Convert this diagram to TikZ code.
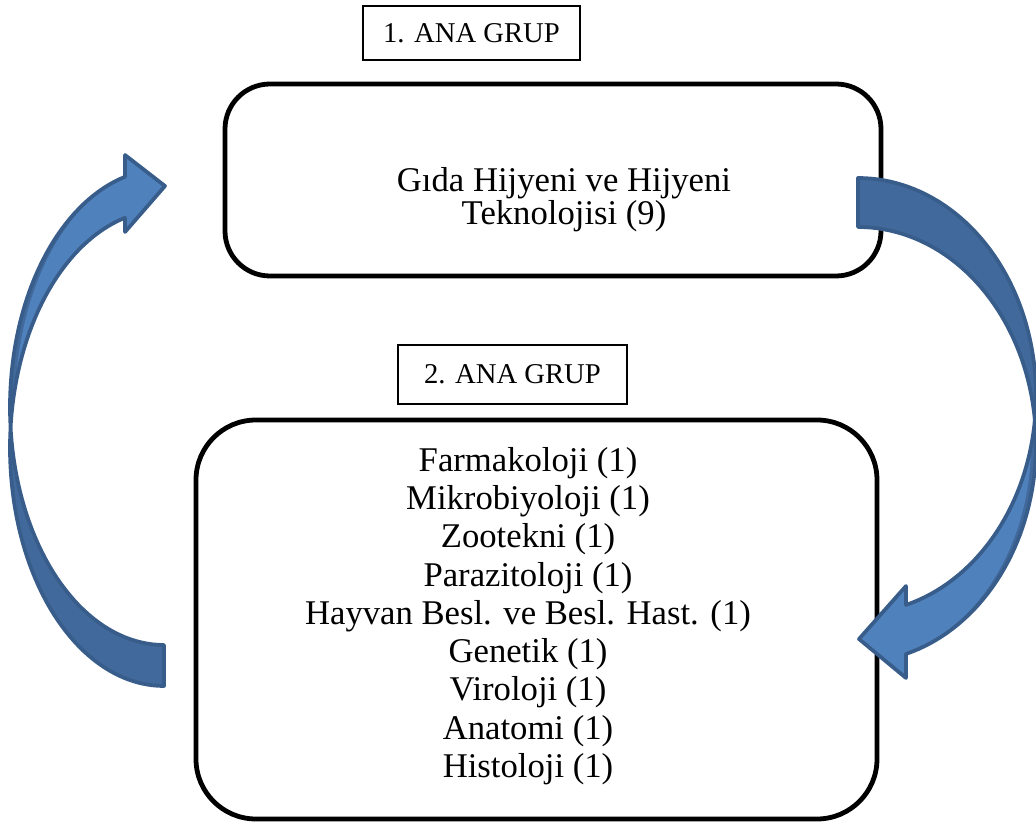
\documentclass[tikz,border=0pt]{standalone}
\usepackage{fontspec}
\setmainfont{Liberation Serif}
\definecolor{arrowfill}{HTML}{4F81BD}
\definecolor{arrowdark}{HTML}{41699B}
\definecolor{arrowline}{HTML}{385D8A}
\tikzset{
  labelbox/.style={draw=black, line width=1.8pt, inner sep=0pt, font=\fontsize{21.5}{24}\selectfont},
  groupbox/.style={draw=black, line width=3.6pt, inner sep=0pt},
  grouptext/.style={align=center, inner sep=0pt},
  arrowedge/.style={draw=arrowline, line width=2.8pt, line join=round}
}
\begin{document}
\begin{tikzpicture}[x=0.75pt, y=-0.75pt]
\useasboundingbox (0,0) rectangle (1036,823);

% boxes
\node[groupbox, rounded corners=33.75pt, minimum width=492pt, minimum height=144pt] (box1) at (553,180) {};
\node[grouptext, font=\fontsize{26}{25}\selectfont] (text1) at (564,200) {Gıda Hijyeni ve Hijyeni\\Teknolojisi (9)};
\node[labelbox, minimum width=162.75pt, minimum height=40.5pt] (label1) at (471.5,33) {1. ANA GRUP};

\node[groupbox, rounded corners=45pt, minimum width=510.75pt, minimum height=299.25pt] (box2) at (536.5,619.5) {};
\node[grouptext, font=\fontsize{26}{28.7}\selectfont] (text2) at (528,616) {Farmakoloji (1)\\Mikrobiyoloji (1)\\Zootekni (1)\\Parazitoloji (1)\\Hayvan Besl. ve Besl. Hast. (1)\\Genetik (1)\\Viroloji (1)\\Anatomi (1)\\Histoloji (1)};
\node[labelbox, minimum width=171.75pt, minimum height=44.25pt] (label2) at (512.5,374.5) {2. ANA GRUP};

% left curved arrow (from group 2 up to group 1)
\fill[arrowdark] plot[domain=90:255.3, samples=80] ({164+154*cos(\x)},{407+238*sin(\x)})
  -- plot[domain=255.3:90, samples=80] ({164+154*cos(\x)},{448+238*sin(\x)}) -- cycle;
\fill[arrowfill] plot[domain=186:255.3, samples=60] ({164+149*cos(\x)},{407+238*sin(\x)})
  -- (125,155) -- (165,186) -- (125,232)
  -- plot[domain=255.3:196.1, samples=60] ({164+154*cos(\x)},{448+238*sin(\x)}) -- cycle;
\path[arrowedge] plot[domain=90:255.3, samples=80] ({164+154*cos(\x)},{407+238*sin(\x)})
  -- (125,155) -- (165,186) -- (125,232)
  -- plot[domain=255.3:90, samples=80] ({164+154*cos(\x)},{448+238*sin(\x)}) -- cycle;

% right curved arrow (from group 1 down to group 2)
\fill[arrowdark] plot[domain=-90:74.35, samples=80] ({858+178*cos(\x)},{395.5+217.5*sin(\x)})
  -- plot[domain=74.35:-90, samples=80] ({858+178*cos(\x)},{444.5+217.5*sin(\x)}) -- cycle;
\fill[arrowfill] plot[domain=0.4:74.35, samples=60] ({858+173*cos(\x)},{444.5+217.5*sin(\x)})
  -- (906,678) -- (859,639) -- (906,586)
  -- plot[domain=74.35:13.43, samples=60] ({858+178*cos(\x)},{395.5+217.5*sin(\x)}) -- cycle;
\path[arrowedge] plot[domain=-90:74.35, samples=80] ({858+178*cos(\x)},{395.5+217.5*sin(\x)})
  -- (906,586) -- (859,639) -- (906,678)
  -- plot[domain=74.35:-90, samples=80] ({858+178*cos(\x)},{444.5+217.5*sin(\x)}) -- cycle;
\end{tikzpicture}
\end{document}
